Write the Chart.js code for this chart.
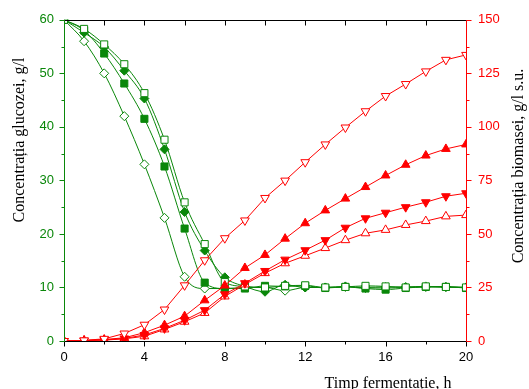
<!DOCTYPE html>
<html>
<head>
<meta charset="utf-8">
<script src="https://cdn.jsdelivr.net/npm/chart.js@4/dist/chart.umd.min.js"></script>
<style>
   html, body { margin: 0; padding: 0; background: #fff; }
   #wrap { width: 529px; height: 389px; }
</style>
</head>
<body>
<div id="wrap"><canvas id="myChart" width="529" height="389"></canvas></div>
<script>
'use strict';

/***** DATA *****/
var hours = [0, 1, 2, 3, 4, 5, 6, 7, 8, 9, 10, 11, 12, 13, 14, 15, 16, 17, 18, 19, 20];

// glucose, g/l (left axis)
var glucoseOpenSquare   = [60, 58.3, 55.4, 51.7, 46.3, 37.6, 25.9, 18.1, 11.0, 10.2, 10.0, 10.3, 10.4, 10.0, 10.1, 10.3, 10.2, 10.0, 10.2, 10.1, 10.0];
var glucoseFullDiamond  = [60, 57.6, 54.9, 50.5, 45.3, 35.8, 24.1, 16.9, 11.9, 10.2, 9.2, 10.5, 10.0, 10.0, 10.2, 9.9, 9.9, 10.0, 10.1, 10.1, 10.0];
var glucoseFullSquare   = [60, 58.0, 53.7, 48.1, 41.5, 32.6, 21.0, 10.9, 9.8, 9.8, 10.3, 10.2, 10.3, 9.9, 10.1, 9.8, 9.6, 9.9, 10.1, 10.1, 9.9];
var glucoseOpenDiamond  = [60, 56.0, 50.0, 42.0, 33.0, 23.0, 12.0, 9.8, 9.8, 10.0, 10.0, 9.4, 10.0, 10.0, 10.1, 10.0, 10.1, 10.1, 10.2, 10.1, 10.0];

// biomass, g/l s.u. (right axis)
var biomassOpenDown  = [0, 0.3, 1.0, 3.5, 7.6, 14.7, 26.0, 37.7, 48.0, 56.3, 66.8, 74.9, 83.5, 91.8, 99.7, 107.3, 114.4, 120.0, 125.9, 131.3, 133.6];
var biomassFullUp    = [0, 0.2, 0.7, 1.5, 3.9, 7.4, 11.6, 19.0, 25.9, 34.1, 40.2, 47.8, 55.0, 61.0, 66.5, 71.9, 77.3, 82.3, 86.6, 89.7, 91.8];
var biomassFullDown  = [0, 0.2, 0.5, 1.2, 2.8, 5.9, 9.7, 14.4, 21.8, 27.0, 32.7, 38.0, 42.4, 47.1, 52.9, 57.3, 59.9, 62.5, 64.8, 67.6, 69.0];
var biomassOpenUp    = [0, 0.2, 0.4, 1.0, 2.2, 5.4, 9.0, 13.1, 20.8, 26.4, 31.7, 36.3, 39.8, 43.4, 47.1, 50.3, 51.9, 54.2, 56.0, 58.2, 58.8];

var xTitle = 'Timp fermentație, h';
var yLeftTitle = 'Concentrația glucozei, g/l';
var yRightTitle = 'Concentrația biomasei, g/l s.u.';

var GREEN = '#0a870a';
var RED = '#ff0000';


/***** HELPERS *****/
function toPoints (values) {
   return hours.map(function (h, i) { return { x: h, y: values[i] }; });
}

function greenSet (values, style, filled, radius) {
   return {
      data: toPoints(values),
      yAxisID: 'y',
      borderColor: GREEN,
      borderWidth: 1,
      pointStyle: style,
      pointRadius: radius,
      pointBorderWidth: 1,
      pointBorderColor: GREEN,
      pointBackgroundColor: filled ? GREEN : '#fff',
      cubicInterpolationMode: 'monotone'
   };
}

function redSet (values, down, filled) {
   return {
      data: toPoints(values),
      yAxisID: 'y1',
      borderColor: RED,
      borderWidth: 1,
      pointStyle: 'triangle',
      rotation: down ? 180 : 0,
      pointRadius: 5,
      pointBorderWidth: 1,
      pointBorderColor: RED,
      pointBackgroundColor: filled ? RED : '#fff',
      tension: 0
   };
}

// axis lines, tick marks, frame and axis titles
var framePlugin = {
   id: 'framePlugin',
   afterDraw: function (chart) {
      var ctx = chart.ctx;
      var a = chart.chartArea;
      var sx = chart.scales.x, sy = chart.scales.y, sy1 = chart.scales.y1;
      var L = Math.round(a.left) + 0.5, R = Math.round(a.right) + 0.5;
      var T = Math.round(a.top) + 0.5, B = Math.round(a.bottom) + 0.5;
      var v, p, len;

      ctx.save();
      ctx.lineWidth = 1;

      // bottom and top (black)
      ctx.strokeStyle = '#000';
      ctx.beginPath();
      ctx.moveTo(L, B); ctx.lineTo(R, B);
      ctx.moveTo(L, T); ctx.lineTo(R, T);
      for (v = 0; v <= 20; v += 2) {
         p = Math.round(sx.getPixelForValue(v)) + 0.5;
         len = (v % 4 === 0) ? 5 : 3;
         ctx.moveTo(p, B); ctx.lineTo(p, B + len);
         ctx.moveTo(p, T); ctx.lineTo(p, T + 5);
      }
      ctx.stroke();

      // left axis (green)
      ctx.strokeStyle = GREEN;
      ctx.beginPath();
      ctx.moveTo(L, T); ctx.lineTo(L, B);
      for (v = 0; v <= 60; v += 5) {
         p = Math.round(sy.getPixelForValue(v)) + 0.5;
         len = (v % 10 === 0) ? 5 : 3;
         ctx.moveTo(L, p); ctx.lineTo(L - len, p);
      }
      ctx.stroke();

      // right axis (red)
      ctx.strokeStyle = RED;
      ctx.beginPath();
      ctx.moveTo(R, T); ctx.lineTo(R, B);
      for (v = 0; v <= 150; v += 12.5) {
         p = Math.round(sy1.getPixelForValue(v)) + 0.5;
         len = (v % 25 === 0) ? 5 : 3;
         ctx.moveTo(R, p); ctx.lineTo(R + len, p);
      }
      ctx.stroke();

      // titles
      ctx.fillStyle = '#000';
      ctx.font = '16px "Liberation Serif", "Times New Roman", serif';
      ctx.textAlign = 'center';
      ctx.textBaseline = 'alphabetic';
      ctx.fillText(xTitle, 388, 388);

      ctx.textBaseline = 'middle';
      ctx.save();
      ctx.translate(20, 140);
      ctx.rotate(-Math.PI / 2);
      ctx.fillText(yLeftTitle, 0, 0);
      ctx.restore();

      ctx.save();
      ctx.translate(519, 166);
      ctx.rotate(-Math.PI / 2);
      ctx.fillText(yRightTitle, 0, 0);
      ctx.restore();

      ctx.restore();
   }
};


/***** CHART *****/
var tickFont = { family: '"Liberation Sans", Arial, sans-serif', size: 13 };

var myChart = new Chart(document.getElementById('myChart'), {
   type: 'line',
   data: {
      datasets: [
         redSet(biomassOpenDown, true, false),
         redSet(biomassFullUp, false, true),
         redSet(biomassFullDown, true, true),
         redSet(biomassOpenUp, false, false),
         greenSet(glucoseOpenSquare, 'rect', false, 5),
         greenSet(glucoseFullDiamond, 'rectRot', true, 4.5),
         greenSet(glucoseFullSquare, 'rect', true, 5),
         greenSet(glucoseOpenDiamond, 'rectRot', false, 4.5)
      ]
   },
   options: {
      responsive: false,
      animation: false,
      layout: { padding: { top: 17, left: 0, right: 0, bottom: 0 } },
      plugins: { legend: { display: false }, tooltip: { enabled: false } },
      scales: {
         x: {
            type: 'linear',
            min: 0, max: 20,
            grid: { display: false, drawTicks: false },
            border: { display: false },
            ticks: { stepSize: 4, color: '#000', font: tickFont, padding: 9, maxRotation: 0 },
            afterFit: function (scale) { scale.height = 48; }
         },
         y: {
            position: 'left',
            min: 0, max: 60,
            grid: { display: false, drawTicks: false },
            border: { display: false },
            ticks: { stepSize: 10, color: GREEN, font: tickFont, padding: 10 },
            afterFit: function (scale) { scale.width = 64; }
         },
         y1: {
            position: 'right',
            min: 0, max: 150,
            grid: { display: false, drawTicks: false },
            border: { display: false },
            ticks: { stepSize: 25, color: RED, font: tickFont, padding: 12 },
            afterFit: function (scale) { scale.width = 63; }
         }
      }
   },
   plugins: [framePlugin]
});
</script>
</body>
</html>
